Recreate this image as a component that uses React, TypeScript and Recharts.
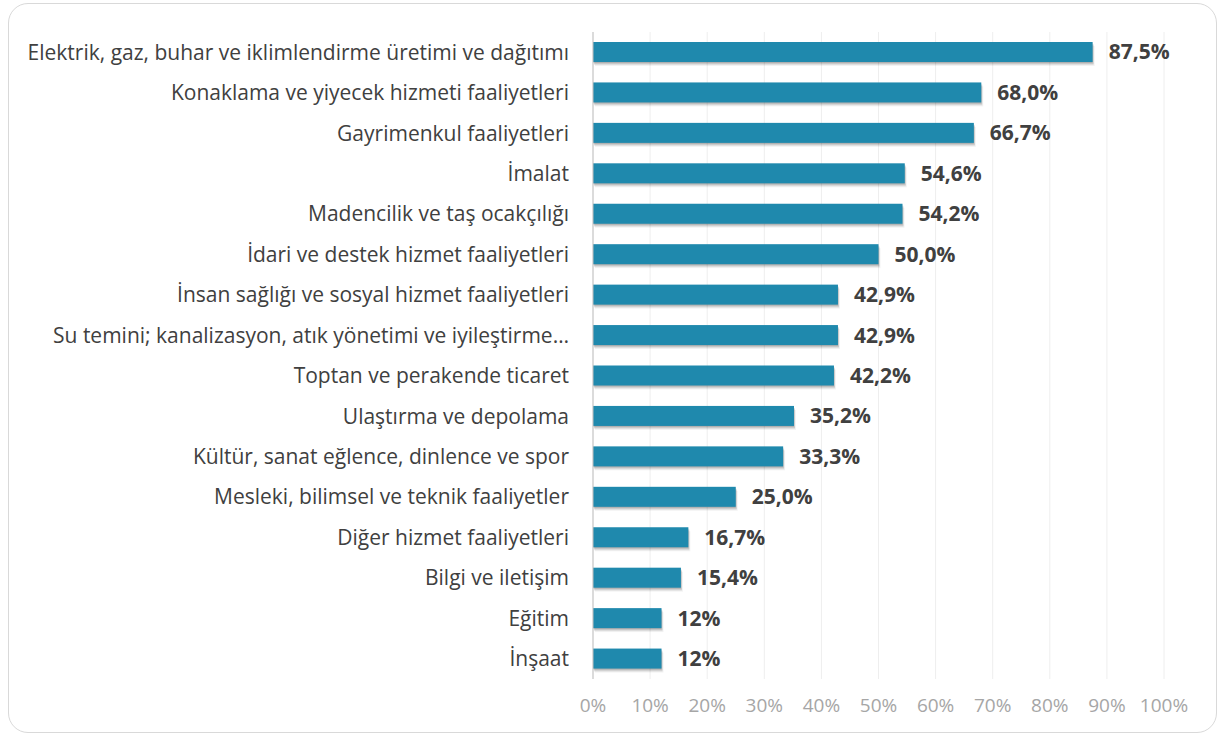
import { BarChart, Bar, XAxis, YAxis, CartesianGrid, LabelList } from "recharts";

const categories = [
  "Elektrik, gaz, buhar ve iklimlendirme üretimi ve dağıtımı",
  "Konaklama ve yiyecek hizmeti faaliyetleri",
  "Gayrimenkul faaliyetleri",
  "İmalat",
  "Madencilik ve taş ocakçılığı",
  "İdari ve destek hizmet faaliyetleri",
  "İnsan sağlığı ve sosyal hizmet faaliyetleri",
  "Su temini; kanalizasyon, atık yönetimi ve iyileştirme…",
  "Toptan ve perakende ticaret",
  "Ulaştırma ve depolama",
  "Kültür, sanat eğlence, dinlence ve spor",
  "Mesleki, bilimsel ve teknik faaliyetler",
  "Diğer hizmet faaliyetleri",
  "Bilgi ve iletişim",
  "Eğitim",
  "İnşaat",
];

const values = [87.5, 68.0, 66.7, 54.6, 54.2, 50.0, 42.9, 42.9, 42.2, 35.2, 33.3, 25.0, 16.7, 15.4, 12, 12];

const valueLabels = [
  "87,5%", "68,0%", "66,7%", "54,6%", "54,2%", "50,0%", "42,9%", "42,9%",
  "42,2%", "35,2%", "33,3%", "25,0%", "16,7%", "15,4%", "12%", "12%",
];

const xTicks = [0, 10, 20, 30, 40, 50, 60, 70, 80, 90, 100];

const data = categories.map((name, i) => ({ name, pct: values[i], label: valueLabels[i] }));

const FONT = "'Open Sans', sans-serif";
const BAR_COLOR = "#1f89ad";

// soft drop shadow (stacked translucent rects) under each bar
const SHADOW = [
  { dx: 3, dy: 5, o: 0.05 },
  { dx: 2, dy: 4, o: 0.08 },
  { dx: 2, dy: 3, o: 0.1 },
  { dx: 1, dy: 2, o: 0.12 },
];

const renderBar = (props: any) => {
  const x = Number(props.x), y = Number(props.y);
  const w = Number(props.width), h = Number(props.height);
  return (
    <g>
      {SHADOW.map((s, i) => (
        <rect key={i} x={x + s.dx - 1} y={y + s.dy - 1} width={w} height={h} fill="#000" opacity={s.o} />
      ))}
      <rect x={x} y={y} width={w} height={h} fill={BAR_COLOR} />
    </g>
  );
};

export default function App() {
  return (
    <div style={{
      position: "absolute", left: 8, top: 3, width: 1209, height: 730,
      border: "1px solid #d9d9d9", borderRadius: 20, boxSizing: "border-box",
      background: "#fff", fontFamily: FONT,
    }}>
      <div style={{ position: "absolute", left: -1, top: -1 }}>
        <BarChart
          width={1209}
          height={730}
          data={data}
          layout="vertical"
          margin={{ top: 29, right: 53, bottom: 24, left: 0 }}
        >
          <CartesianGrid horizontal={false} stroke="#eeeeee" />
          <XAxis
            type="number"
            domain={[0, 100]}
            ticks={xTicks}
            tickFormatter={(v: number) => v + "%"}
            axisLine={false}
            tickLine={false}
            tickMargin={14}
            height={30}
            tick={{ fill: "#a6a6a6", fontSize: 19, fontFamily: FONT }}
          />
          <YAxis
            type="category"
            dataKey="name"
            width={585}
            axisLine={{ stroke: "#bfbfbf" }}
            tickLine={false}
            tickSize={0}
            tickMargin={24}
            interval={0}
            tick={{ fill: "#404040", fontSize: 21, fontFamily: FONT }}
          />
          <Bar dataKey="pct" barSize={20} fill={BAR_COLOR} isAnimationActive={false} shape={renderBar}>
            <LabelList
              dataKey="label"
              position="right"
              offset={16}
              style={{ fill: "#404040", fontSize: 21, fontWeight: 700, fontFamily: FONT }}
            />
          </Bar>
        </BarChart>
      </div>
    </div>
  );
}
